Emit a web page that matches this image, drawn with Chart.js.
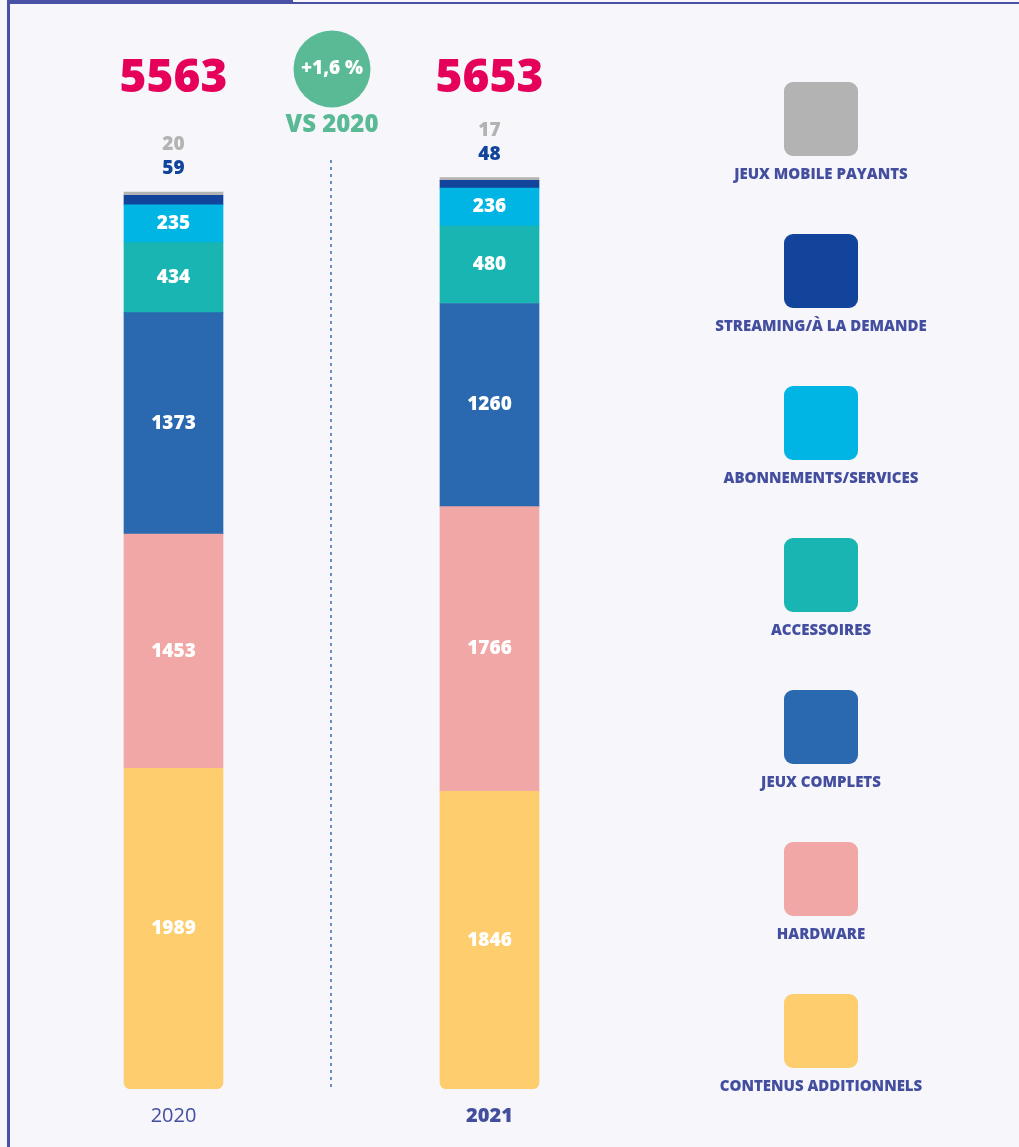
<!DOCTYPE html>
<html>
<head>
<meta charset="utf-8">
<script src="https://cdn.jsdelivr.net/npm/chart.js@4.4.1/dist/chart.umd.min.js"></script>
<style>
  html, body { margin: 0; padding: 0; background: #f6f6fb; }
  #wrap { width: 1019px; height: 1147px; position: relative; }
</style>
</head>
<body>
<div id="wrap"><canvas id="chart" width="1019" height="1147"></canvas></div>
<script>
// ─── Data ────────────────────────────────────────────────────────────────────
const YEARS = ['2020', '2021'];
const SEGMENTS = [
  'CONTENUS ADDITIONNELS',
  'HARDWARE',
  'JEUX COMPLETS',
  'ACCESSOIRES',
  'ABONNEMENTS/SERVICES',
  'STREAMING/À LA DEMANDE',
  'JEUX MOBILE PAYANTS'
];
const contenus     = [1989, 1846];
const hardware     = [1453, 1766];
const jeuxComplets = [1373, 1260];
const accessoires  = [434, 480];
const abonnements  = [235, 236];
const streaming    = [59, 48];
const mobile       = [20, 17];
const TOTALS       = [5563, 5653];
const GROWTH       = '+1,6 %';
const GROWTH_SUB   = 'VS 2020';

const COLORS = ['#fdcd6e', '#f1a7a5', '#2a69b0', '#18b5b2', '#00b5e3', '#11449a', '#b3b3b3'];
const SERIES = [contenus, hardware, jeuxComplets, accessoires, abonnements, streaming, mobile];

const FONT = '"Open Sans", Lato, sans-serif';
const NAVY = '#434e9f';

// ─── Decorations: frame, totals, badge, legend, value labels ────────────────
const decor = {
  id: 'decor',
  beforeDraw(chart) {
    const c = chart.ctx;
    c.save();
    c.fillStyle = '#f6f6fb';
    c.fillRect(0, 0, chart.width, chart.height);
    c.fillStyle = '#4851a3';
    c.fillRect(7, 0, 3, chart.height);
    c.fillRect(7, 0, 286, 4);
    c.fillRect(293, 2, chart.width - 293, 2);
    // dashed separator
    c.strokeStyle = '#3d6bb3';
    c.lineWidth = 1.5;
    c.setLineDash([3, 4]);
    c.beginPath();
    c.moveTo(331, 160);
    c.lineTo(331, chart.chartArea.bottom);
    c.stroke();
    c.restore();
  },
  afterDatasetsDraw(chart) {
    const c = chart.ctx;
    const x = chart.scales.x;
    c.save();
    c.textAlign = 'center';
    c.textBaseline = 'middle';

    // values
    chart.data.datasets.forEach((ds, di) => {
      const meta = chart.getDatasetMeta(di);
      meta.data.forEach((el, i) => {
        const v = ds.data[i];
        c.font = `800 19px ${FONT}`;
        if (di >= 5) {
          const top = chart.getDatasetMeta(6).data[i].y;
          c.fillStyle = di === 6 ? '#b3b3b3' : '#11449a';
          c.fillText(String(v), el.x, top - (di === 6 ? 47 : 23));
        } else {
          c.fillStyle = '#ffffff';
          c.fillText(String(v), el.x, (el.y + el.base) / 2);
        }
      });
    });

    // totals
    c.font = `800 46px ${FONT}`;
    c.fillStyle = '#e5005a';
    TOTALS.forEach((t, i) => c.fillText(String(t), x.getPixelForValue(i), 79));

    // growth badge
    c.fillStyle = '#5aba96';
    c.beginPath();
    c.arc(332, 69, 38.5, 0, Math.PI * 2);
    c.fill();
    c.fillStyle = '#ffffff';
    c.font = `800 19px ${FONT}`;
    c.fillText(GROWTH, 332, 69);
    c.fillStyle = '#5aba96';
    c.font = `800 24px ${FONT}`;
    c.fillText(GROWTH_SUB, 332, 125);

    // legend (top to bottom = top of stack first)
    chart.data.datasets.slice().reverse().forEach((ds, k) => {
      const y0 = 82 + k * 152;
      c.fillStyle = ds.backgroundColor;
      c.beginPath();
      c.roundRect(784, y0, 74, 74, 9);
      c.fill();
      c.fillStyle = NAVY;
      c.font = `800 15px ${FONT}`;
      c.fillText(ds.label, 821, y0 + 93);
    });
    c.restore();
  }
};

// ─── Chart ───────────────────────────────────────────────────────────────────
new Chart(document.getElementById('chart'), {
  type: 'bar',
  data: {
    labels: YEARS,
    datasets: SEGMENTS.map((name, i) => ({
      label: name,
      data: SERIES[i],
      backgroundColor: COLORS[i],
      barThickness: 99,
      borderWidth: 0,
      borderSkipped: false,
      borderRadius: i === 0 ? { topLeft: 0, topRight: 0, bottomLeft: 7, bottomRight: 7 } : 0
    }))
  },
  options: {
    responsive: false,
    animation: false,
    layout: { padding: { left: 15.5, right: 371.5, top: 41, bottom: 12 } },
    scales: {
      x: {
        stacked: true,
        grid: { display: false },
        border: { display: false },
        ticks: {
          padding: 7,
          color: NAVY,
          font: (ctx) => ({ family: FONT, size: 20, weight: ctx.index === 1 ? '800' : 'normal' })
        }
      },
      y: { stacked: true, display: false, min: 0, max: 6500 }
    },
    plugins: {
      legend: { display: false },
      tooltip: { enabled: false }
    }
  },
  plugins: [decor]
});
</script>
</body>
</html>
